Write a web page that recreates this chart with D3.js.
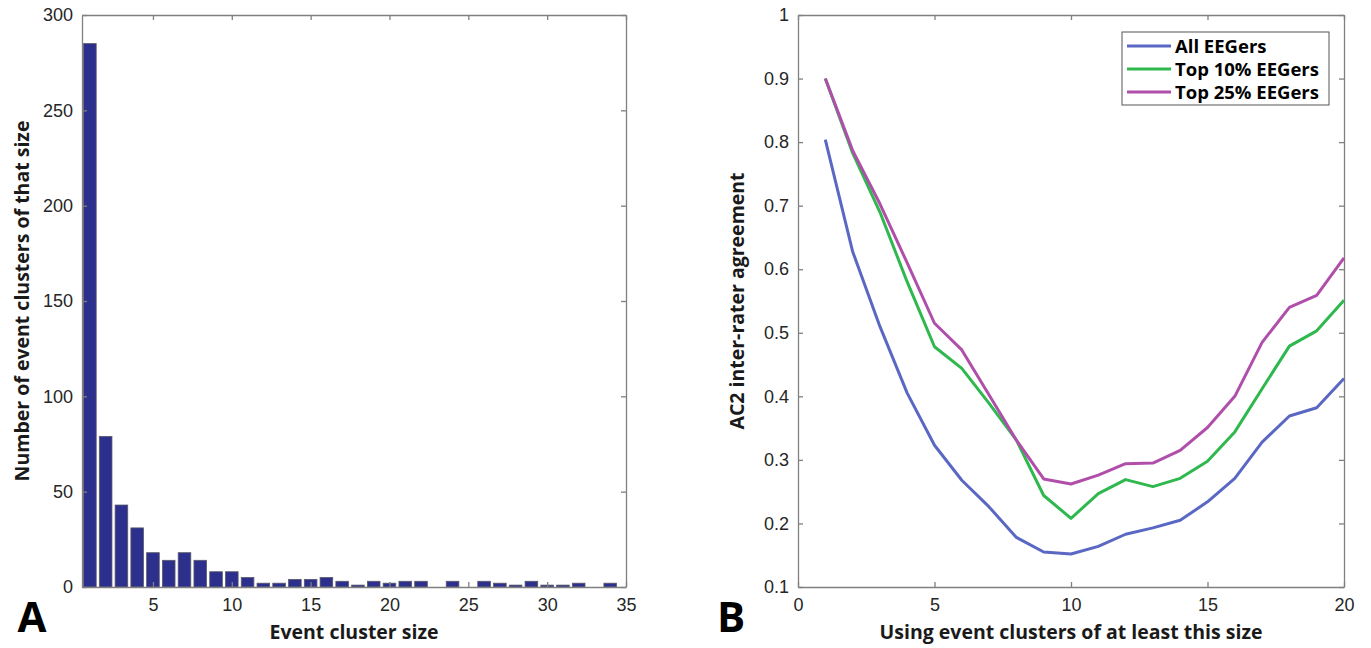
<!DOCTYPE html>
<html>
<head>
<meta charset="utf-8">
<script src="https://cdn.jsdelivr.net/npm/d3@7/dist/d3.min.js"></script>
<style>
  body { margin: 0; background: #fff; }
  svg { display: block; font-family: 'Open Sans', Lato, sans-serif; }
  .tick text { fill: #262626; font-size: 18px; }
  .axis path, .axis line { stroke: #808080; stroke-width: 1.3; }
  .ttl { font-weight: bold; font-size: 19.5px; fill: #1a1a1a; }
  .panel { font-weight: bold; font-size: 42px; fill: #000; }
  .leg { font-weight: bold; font-size: 18.5px; fill: #000; }
</style>
</head>
<body>
<script>
// panel A: histogram of event cluster sizes
const clusterSizes = d3.range(1, 35);
const clusterCounts = [285, 79, 43, 31, 18, 14, 18, 14, 8, 8, 5, 2, 2, 4, 4, 5, 3, 1, 3, 2,
  3, 3, 0, 3, 0, 3, 2, 1, 3, 1, 1, 2, 0, 2];

// panel B: agreement vs minimum cluster size
const minSizes = d3.range(1, 21);
const allEEGers = [0.804, 0.628, 0.51, 0.405, 0.323, 0.268, 0.226, 0.178, 0.155, 0.152,
  0.164, 0.183, 0.193, 0.205, 0.234, 0.271, 0.328, 0.369, 0.382, 0.428];
const top10 = [0.9, 0.783, 0.69, 0.58, 0.478, 0.444, 0.389, 0.331, 0.244, 0.208,
  0.247, 0.269, 0.258, 0.271, 0.298, 0.344, 0.412, 0.479, 0.503, 0.551];
const top25 = [0.9, 0.787, 0.703, 0.61, 0.515, 0.473, 0.402, 0.331, 0.27, 0.262,
  0.276, 0.294, 0.295, 0.315, 0.351, 0.40, 0.485, 0.54, 0.559, 0.618];
const seriesNames = ['All EEGers', 'Top 10% EEGers', 'Top 25% EEGers'];
const seriesColors = ['#5a68c4', '#2fb84e', '#b04faa'];

const svg = d3.select('body').append('svg')
  .attr('width', 1371)
  .attr('height', 648);

const boxAxes = (g, x, y, xTicks, yTicks, yFmt) => {
  const [xa, xb] = x.range();
  const [ya, yb] = y.range();
  g.append('g').attr('class', 'axis').attr('transform', `translate(0,${ ya })`)
    .call(d3.axisBottom(x).tickValues(xTicks).tickSizeInner(-5).tickSizeOuter(0).tickPadding(11));
  g.append('g').attr('class', 'axis').attr('transform', `translate(0,${ yb })`)
    .call(d3.axisTop(x).tickValues(xTicks).tickSizeInner(-5).tickSizeOuter(0).tickFormat(''));
  g.append('g').attr('class', 'axis').attr('transform', `translate(${ xa },0)`)
    .call(d3.axisLeft(y).tickValues(yTicks).tickSizeInner(-5).tickSizeOuter(0).tickPadding(9).tickFormat(yFmt));
  g.append('g').attr('class', 'axis').attr('transform', `translate(${ xb },0)`)
    .call(d3.axisRight(y).tickValues(yTicks).tickSizeInner(-5).tickSizeOuter(0).tickFormat(''));
  g.selectAll('.tick text').attr('font-family', null).attr('font-size', null);
};

// ---- A ----
const xA = d3.scaleLinear().domain([0.5, 35]).range([82, 626]);
const yA = d3.scaleLinear().domain([0, 300]).range([587, 15]);
const gA = svg.append('g');
const bw = (xA(1) - xA(0)) * 0.8;

gA.selectAll('rect.bar')
  .data(clusterSizes.map((s, i) => ({ s, n: clusterCounts[i] })).filter(d => d.n > 0))
  .enter().append('rect')
  .attr('class', 'bar')
  .attr('x', d => xA(d.s) - bw / 2)
  .attr('width', bw)
  .attr('y', d => yA(d.n))
  .attr('height', d => yA(0) - yA(d.n))
  .attr('fill', '#2c2f8c')
  .attr('stroke', '#5a5a6a')
  .attr('stroke-width', 0.8);

boxAxes(gA, xA, yA, d3.range(5, 36, 5), d3.range(0, 301, 50), d3.format('d'));

gA.append('text').attr('class', 'ttl')
  .attr('x', 354).attr('y', 639).attr('text-anchor', 'middle')
  .text('Event cluster size');
gA.append('text').attr('class', 'ttl')
  .attr('transform', 'translate(29,301) rotate(-90)').attr('text-anchor', 'middle')
  .text('Number of event clusters of that size');
gA.append('text').attr('class', 'panel')
  .attr('x', 32).attr('y', 632).attr('text-anchor', 'middle').text('A');

// ---- B ----
const xB = d3.scaleLinear().domain([0, 20]).range([798, 1344]);
const yB = d3.scaleLinear().domain([0.1, 1]).range([587, 15]);
const gB = svg.append('g');

boxAxes(gB, xB, yB, d3.range(0, 21, 5), d3.range(1, 11).map(v => v / 10), d => d3.format('')(+d.toFixed(1)));

const line = d3.line()
  .x((d, i) => xB(minSizes[i]))
  .y(d => yB(d));

gB.selectAll('path.series')
  .data([allEEGers, top10, top25])
  .enter().append('path')
  .attr('class', 'series')
  .attr('d', line)
  .attr('fill', 'none')
  .attr('stroke', (d, i) => seriesColors[i])
  .attr('stroke-width', 3)
  .attr('stroke-linejoin', 'round');

gB.append('text').attr('class', 'ttl')
  .attr('x', 1071).attr('y', 639).attr('text-anchor', 'middle')
  .text('Using event clusters of at least this size');
gB.append('text').attr('class', 'ttl')
  .attr('transform', 'translate(744,301) rotate(-90)').attr('text-anchor', 'middle')
  .text('AC2 inter-rater agreement');
gB.append('text').attr('class', 'panel')
  .attr('x', 731).attr('y', 632).attr('text-anchor', 'middle').text('B');

// legend
const leg = gB.append('g').attr('transform', 'translate(1122,32)');
leg.append('rect')
  .attr('width', 207).attr('height', 73)
  .attr('fill', '#fff').attr('stroke', '#555').attr('stroke-width', 1);
seriesNames.forEach((name, i) => {
  const yy = 14 + i * 23;
  leg.append('line')
    .attr('x1', 5).attr('x2', 49).attr('y1', yy).attr('y2', yy)
    .attr('stroke', seriesColors[i]).attr('stroke-width', 3);
  leg.append('text').attr('class', 'leg')
    .attr('x', 53).attr('y', yy + 6.5).text(name);
});
</script>
</body>
</html>
